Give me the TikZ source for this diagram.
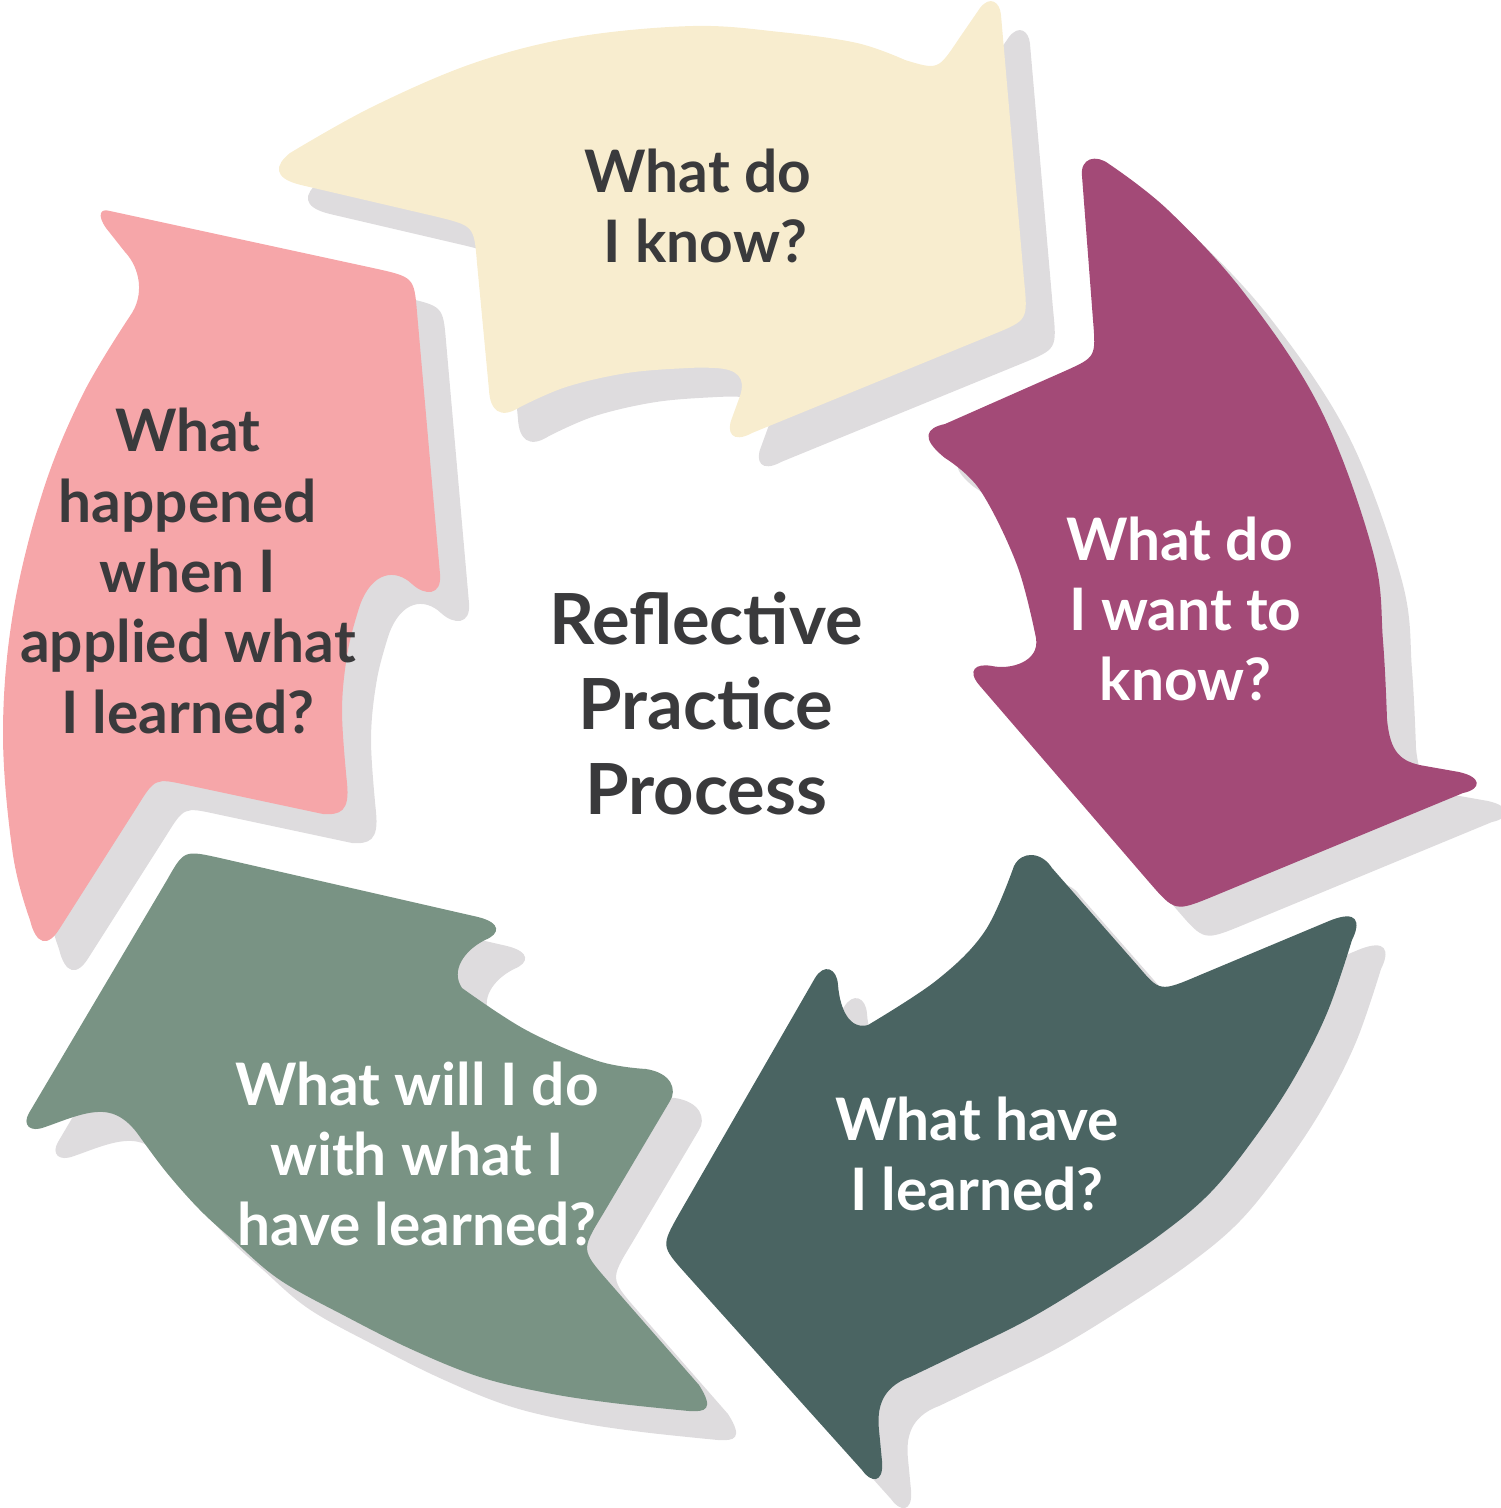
\documentclass[tikz,border=0pt]{standalone}
\usepackage{fontspec}
\setmainfont{Lato}
\definecolor{yellowc}{HTML}{F8EDCF}
\definecolor{purplec}{HTML}{A34A77}
\definecolor{darkc}{HTML}{4A6462}
\definecolor{lightc}{HTML}{799384}
\definecolor{pinkc}{HTML}{F6A6A9}
\definecolor{shadowc}{HTML}{DEDCDE}
\definecolor{inkc}{HTML}{3A3A3C}
\newcommand\ArrYellow[1]{\fill[#1] (290,153) -- plot[smooth,tension=0.6] coordinates {(290,153) (372,107) (474,63) (576,37) (693,26) (780,32) (857,43) (905,60)} .. controls (938,70) .. (958,40) -- (980,8) .. controls (990,-5) and (1000,2) .. (1001,15) -- (1024,280) .. controls (1028,320) .. (994,334) -- (752,433) .. controls (732,444) and (726,432) .. (732,418) -- (740,396) .. controls (746,378) and (738,369) .. (715,368) -- plot[smooth,tension=0.6] coordinates {(715,368) (688,368) (627,373) (566,387) (520,407)} .. controls (500,420) and (490,410) .. (489,390) -- (477,263) .. controls (474,226) .. (438,217) -- (301,185) .. controls (272,178) and (275,165) .. (290,153) -- cycle;}
\newcommand\ArrPurple[1]{\fill[#1] (1082,176) .. controls (1080,158) and (1096,154) .. (1109,164) -- plot[smooth,tension=0.6] coordinates {(1109,164) (1168,210) (1245,294) (1321,410) (1373,552) (1383,641) (1387,719)} .. controls (1390,752) and (1400,762) .. (1425,766) -- (1459,772) .. controls (1482,777) and (1482,789) .. (1463,793) -- (1214,896) .. controls (1175,912) .. (1149,882) -- (980,686) .. controls (966,670) and (976,663) .. (992,666) .. controls (1010,670) and (1040,662) .. (1036,638) -- plot[smooth,tension=0.6] coordinates {(1036,638) (1017,565) (980,490) (945,458)} .. controls (920,438) and (926,428) .. (945,424) -- (1065,371) .. controls (1096,357) .. (1093,320) -- cycle;}
\newcommand\ArrDark[1]{\fill[#1] (1014,866) .. controls (1022,850) and (1042,852) .. (1052,868) -- (1138,966) .. controls (1160,992) .. (1200,975) -- (1329,921) .. controls (1358,909) and (1361,922) .. (1352,940) -- plot[smooth,tension=0.6] coordinates {(1352,940) (1327,1013) (1293,1080) (1253,1140) (1210,1193) (1160,1235) (1093,1280) (1027,1320) (960,1353) (910,1377)} .. controls (880,1388) and (877,1410) .. (879,1430) -- (882,1461) .. controls (884,1485) and (870,1482) .. (862,1470) -- (686,1274) .. controls (661,1246) .. (679,1214) -- (815,978) .. controls (824,963) and (837,968) .. (838,985) .. controls (840,1010) and (850,1030) .. (868,1025) -- plot[smooth,tension=0.6] coordinates {(868,1025) (937,980) (985,931) (1014,866)} -- cycle;}
\newcommand\ArrLight[1]{\fill[#1] (167,880) .. controls (184,850) .. (220,858) -- (478,917) .. controls (502,923) and (500,934) .. (485,940) .. controls (465,950) and (450,970) .. (462,988) -- plot[smooth,tension=0.6] coordinates {(462,988) (526,1030) (598,1061) (646,1069)} .. controls (672,1073) and (677,1090) .. (670,1101) -- (603,1214) .. controls (581,1250) .. (608,1281) -- (699,1385) .. controls (715,1410) and (705,1412) .. (689,1411) -- plot[smooth,tension=0.6] coordinates {(689,1411) (613,1403) (547,1393) (480,1377) (413,1350) (347,1317) (280,1280) (233,1240) (200,1210) (167,1173) (140,1137)} .. controls (125,1115) and (110,1111) .. (97,1112) .. controls (80,1113) and (60,1122) .. (45,1127) .. controls (30,1133) and (22,1125) .. (29,1113) -- cycle;}
\newcommand\ArrPink[1]{\fill[#1] (110,211) -- (373,268) .. controls (414,277) .. (417,312) -- (440,574) .. controls (442,596) and (425,596) .. (412,584) .. controls (395,568) and (372,572) .. (360,605) -- plot[smooth,tension=0.6] coordinates {(360,605) (348,650) (342,710) (347,783)} .. controls (350,812) and (340,815) .. (323,814) -- (187,785) .. controls (155,778) .. (137,807) -- (60,928) .. controls (48,948) and (36,945) .. (30,920) -- plot[smooth,tension=0.6] coordinates {(30,920) (13,855) (3,734) (13,613) (43,491) (83,394) (130,316)} .. controls (145,295) and (140,268) .. (125,252) -- (106,228) .. controls (97,215) and (100,208) .. (110,211) -- cycle;}
\begin{document}
\begin{tikzpicture}[x=1pt,y=-1pt,
  txt/.style={align=center, inner sep=0pt, font={\fontsize{58.6}{70.3}\selectfont\bfseries}},
  title/.style={align=center, inner sep=0pt, text=inkc, font={\fontsize{70.5}{85}\selectfont\bfseries}},
  shade/.style={shadowc, shift={(29,29)}}]
\useasboundingbox (0,0) rectangle (1501,1508);
% shadows
\ArrYellow{shade}
\ArrPurple{shade}
\ArrDark{shade}
\ArrLight{shade}
\ArrPink{shade}
% arrows
\ArrYellow{yellowc}
\ArrPurple{purplec}
\ArrDark{darkc}
\ArrLight{lightc}
\ArrPink{pinkc}
% texts
\node[txt, text=inkc] (know) at (698,206) {What do\\\hspace*{15pt}I know?};
\node[txt, text=white] (want) at (1185.5,609) {What do\hspace*{12pt}\\I want to\\know?};
\node[txt, text=white] (learned) at (977,1154) {What have\\I learned?};
\node[txt, text=white] (willdo) at (417,1154) {What will I do\\with what I\hspace*{9pt}\\have learned?};
\node[txt, text=inkc] (applied) at (188,571) {What\\happened\\when I\\applied what\\I learned?};
\node[title] (center) at (706,704) {Reflective\\Practice\\Process};
\end{tikzpicture}
\end{document}
